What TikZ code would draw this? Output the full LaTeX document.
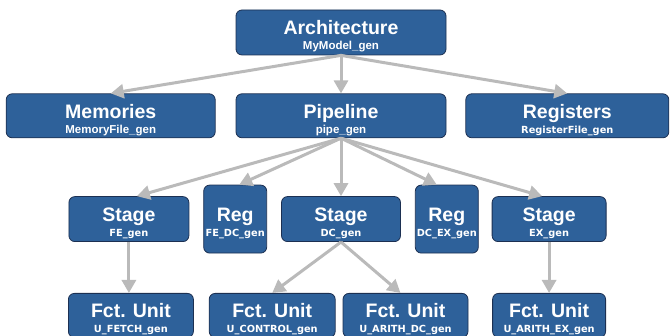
\documentclass[tikz,border=0pt]{standalone}
\usepackage{fontspec}
\setmainfont{Liberation Sans}
\newfontfamily\subfam{DejaVu Sans}
\usetikzlibrary{arrows.meta,positioning}
\definecolor{blkfill}{RGB}{46,97,154}
\definecolor{blkline}{RGB}{28,48,82}
\definecolor{arrgray}{RGB}{186,186,186}
\newcommand{\subA}{\fontsize{11.5}{12}\selectfont\bfseries}
\newcommand{\subB}{\subfam\fontsize{9.8}{12}\selectfont\bfseries}

\begin{document}
\begin{tikzpicture}[
			x=1pt,y=1pt,
			>={Triangle[length=13pt,width=14pt]},
			blk/.style={
				draw=blkline,
				line width=0.8pt,
				fill=blkfill,
				rounded corners=6pt,
				text=white,
				align=center,
				inner sep=0pt,
				text height=39pt,
				text depth=4pt,
				font=\fontsize{19.5}{15}\selectfont\bfseries
			},
			wide/.style={blk,minimum width=210pt,minimum height=44pt},
			mid/.style={blk,minimum width=119pt,minimum height=45pt},
			tall/.style={blk,minimum width=63pt,minimum height=68pt},
			fct/.style={blk,minimum width=125pt,minimum height=44pt},
			link/.style={->,draw=arrgray,fill=arrgray,line width=3pt}
			]
			
			\useasboundingbox (0,0) rectangle (672,336);
			
			\node[wide,minimum height=45pt] (arch) at (341,303.5)
			{Architecture\\{\subA MyModel\_gen}};
			
			\node[wide,below=38pt of arch] (pipe)
			{Pipeline\\{\subA pipe\_gen}};
			
			\node[wide,minimum width=209pt,left=20pt of pipe] (mem)
			{Memories\\{\subA MemoryFile\_gen}};
			
			\node[wide,minimum width=203pt,right=19pt of pipe] (regs)
			{Registers\\{\subB RegisterFile\_gen}};
			
			\node[mid,below=58pt of pipe] (dc)
			{Stage\\{\subB DC\_gen}};
			
			\node[tall,left=14pt of dc] (fedc)
			{Reg\\{\subB FE\_DC\_gen}};
			
			\node[mid,minimum width=120pt,left=14pt of fedc] (fe)
			{Stage\\{\subB FE\_gen}};
			
			\node[tall,right=14pt of dc] (dcex)
			{Reg\\{\subB DC\_EX\_gen}};
			
			\node[mid,minimum width=114pt,right=13pt of dcex] (ex)
			{Stage\\{\subB EX\_gen}};
			
			\node[fct,below=51pt of fe,xshift=2pt] (ufetch)
			{Fct. Unit\\{\subB U\_FETCH\_gen}};
			
			\node[fct,minimum width=126pt,right=15pt of ufetch] (uctrl)
			{Fct. Unit\\{\subB U\_CONTROL\_gen}};
			
			\node[fct,right=7pt of uctrl] (uadc)
			{Fct. Unit\\{\subB U\_ARITH\_DC\_gen}};
			
			\node[fct,minimum width=113pt,below=51pt of ex] (uaex)
			{Fct. Unit\\{\subB U\_ARITH\_EX\_gen}};
			
			\draw[link] (arch.south) -- (mem.north);
			\draw[link] (arch.south) -- (pipe.north);
			\draw[link] (arch.south) -- (regs.north);
			
			\draw[link] (pipe.south) -- ([xshift=8pt]fe.north);
			\draw[link] (pipe.south) -- ([xshift=4pt]fedc.north);
			\draw[link] (pipe.south) -- (dc.north);
			\draw[link] (pipe.south) -- ([xshift=-10pt]dcex.north);
			\draw[link] (pipe.south) -- ([xshift=-7pt]ex.north);
			
			\draw[link] (fe.south) -- (fe.south |- ufetch.north);
			\draw[link] (dc.south) -- (uctrl.north);
			\draw[link] (dc.south) -- ([xshift=-5pt]uadc.north);
			\draw[link] (ex.south) -- (uaex.north);
			
		\end{tikzpicture}
\end{document}
